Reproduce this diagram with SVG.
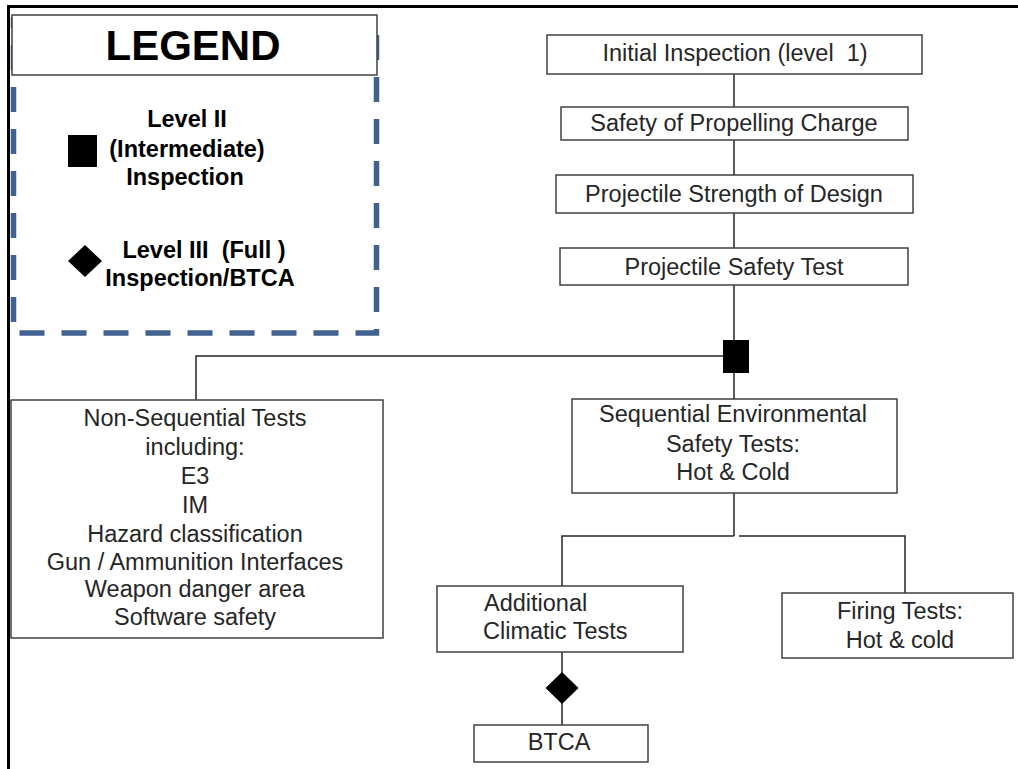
<svg xmlns="http://www.w3.org/2000/svg" width="1018" height="769" viewBox="0 0 1018 769">
<style>
.box{fill:#fff;stroke:#404040;stroke-width:1.5}
.ln{fill:none;stroke:#262626;stroke-width:1.5}
.t{font-family:"Liberation Sans",Arial,sans-serif;font-size:23.5px;fill:#262626;text-anchor:middle}
.s{text-anchor:start}
.b{font-family:"Liberation Sans",Arial,sans-serif;font-size:23.5px;font-weight:bold;fill:#000;text-anchor:middle}
</style>
<rect width="1018" height="769" fill="#fff"/>
<g id="frame">
<line x1="7" y1="6.5" x2="1018" y2="6.5" stroke="#000" stroke-width="3"/>
<line x1="8.5" y1="5" x2="8.5" y2="769" stroke="#000" stroke-width="3"/>
</g>
<g id="legend">
<rect x="13.5" y="20" width="363" height="313" fill="none" stroke="#41618f" stroke-width="5.5" stroke-dasharray="25 17"/>
<rect class="box" x="12" y="15" width="365" height="60"/>
<text x="193" y="60" font-family="Liberation Sans,Arial,sans-serif" font-size="42" font-weight="bold" text-anchor="middle" fill="#000">LEGEND</text>
<rect x="68" y="135" width="29" height="32" fill="#000"/>
<text class="b" x="187" y="127">Level II</text>
<text class="b" x="187" y="157">(Intermediate)</text>
<text class="b" x="185" y="185">Inspection</text>
<polygon points="85,245 102,261 85,277 68,261" fill="#000"/>
<text class="b" x="204" y="258" xml:space="preserve">Level III  (Full )</text>
<text class="b" x="200" y="286">Inspection/BTCA</text>
</g>
<g id="connectors">
<line class="ln" x1="734" y1="74" x2="734" y2="107"/>
<line class="ln" x1="734" y1="140" x2="734" y2="175"/>
<line class="ln" x1="734" y1="213" x2="734" y2="248"/>
<line class="ln" x1="734" y1="285" x2="734" y2="399"/>
<polyline class="ln" points="196,400 196,356 734,356"/>
<line class="ln" x1="734" y1="493" x2="734" y2="536"/>
<polyline class="ln" points="734,536 562,536 562,586"/>
<polyline class="ln" points="739,536 905,536 905,593"/>
<line class="ln" x1="562" y1="652" x2="562" y2="725"/>
</g>
<g id="level2-marker"><rect x="723" y="340" width="26" height="33" fill="#000"/></g>
<g id="level3-marker"><polygon points="562,672 578.5,688 562,704 545.5,688" fill="#000"/></g>
<g id="n1"><rect class="box" x="547" y="35" width="375" height="39"/><text class="t" x="735" y="61" xml:space="preserve">Initial Inspection (level  1)</text></g>
<g id="n2"><rect class="box" x="561" y="107" width="347" height="33"/><text class="t" x="734" y="131">Safety of Propelling Charge</text></g>
<g id="n3"><rect class="box" x="556" y="175" width="357" height="38"/><text class="t" x="734" y="202">Projectile Strength of Design</text></g>
<g id="n4"><rect class="box" x="560" y="248" width="348" height="37"/><text class="t" x="734" y="275">Projectile Safety Test</text></g>
<g id="n5"><rect class="box" x="11" y="400" width="372" height="238"/>
<text class="t" x="195" y="426">Non-Sequential Tests</text>
<text class="t" x="195" y="455">including:</text>
<text class="t" x="195" y="484">E3</text>
<text class="t" x="195" y="513">IM</text>
<text class="t" x="195" y="542">Hazard classification</text>
<text class="t" x="195" y="570">Gun / Ammunition Interfaces</text>
<text class="t" x="195" y="597">Weapon danger area</text>
<text class="t" x="195" y="625">Software safety</text>
</g>
<g id="n6"><rect class="box" x="572" y="399" width="325" height="94"/>
<text class="t" x="733" y="422">Sequential Environmental</text>
<text class="t" x="733" y="452">Safety Tests:</text>
<text class="t" x="733" y="480">Hot &amp; Cold</text>
</g>
<g id="n7"><rect class="box" x="437" y="586" width="246" height="66"/>
<text class="t s" x="484" y="611">Additional</text>
<text class="t s" x="483" y="639">Climatic Tests</text>
</g>
<g id="n8"><rect class="box" x="782" y="593" width="231" height="65"/>
<text class="t" x="900" y="619">Firing Tests:</text>
<text class="t" x="900" y="648">Hot &amp; cold</text>
</g>
<g id="n9"><rect class="box" x="474" y="725" width="174" height="37"/>
<text class="t" x="559" y="750">BTCA</text>
</g>
</svg>
